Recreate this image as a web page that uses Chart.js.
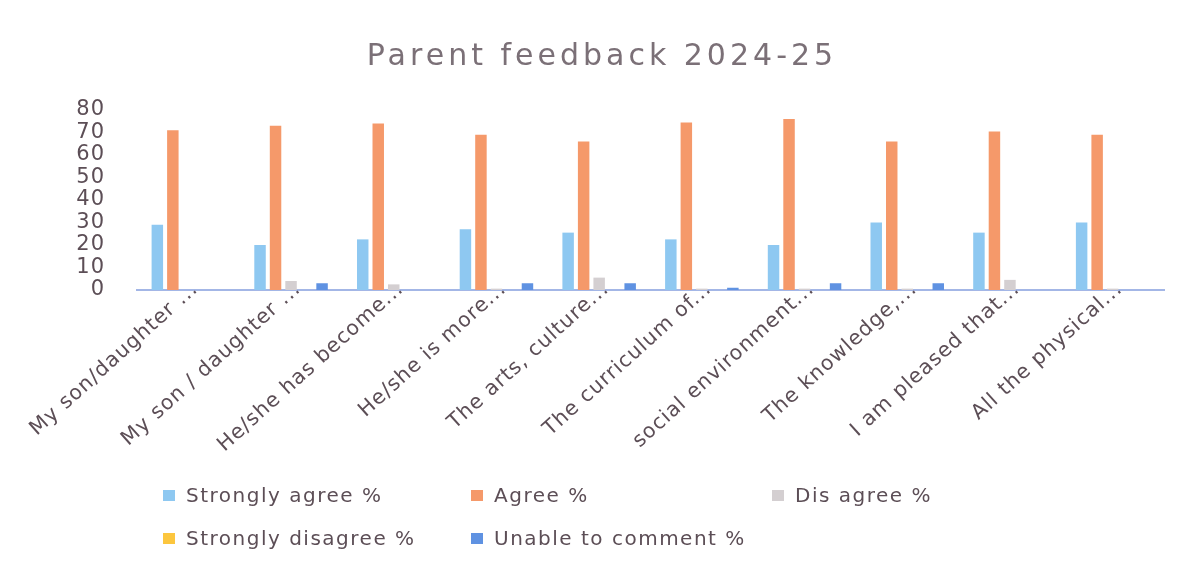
<!DOCTYPE html>
<html>
<head>
<meta charset="utf-8">
<script src="https://cdn.jsdelivr.net/npm/chart.js@4.4.1/dist/chart.umd.min.js"></script>
<style>
  html,body{margin:0;padding:0;background:#fff;}
  #wrap{position:relative;width:1200px;height:572px;}
  canvas{position:absolute;left:0;top:0;}
  .lg{position:absolute;font-family:"DejaVu Sans", sans-serif;font-size:20px;letter-spacing:1.5px;color:#5c4e56;white-space:nowrap;line-height:24px;}
  .lg span.b{position:absolute;width:12px;height:11px;top:7px;left:0;}
</style>
</head>
<body>
<div id="wrap"><canvas id="c" width="1200" height="572"></canvas><div id="legend"></div></div>
<script>
const categories = [
  "My son/daughter ...",
  "My son / daughter ...",
  "He/she has become...",
  "He/she is more...",
  "The arts, culture...",
  "The curriculum of...",
  "social environment...",
  "The knowledge,...",
  "I am pleased that...",
  "All the physical..."
];
const seriesNames = ["Strongly agree %", "Agree %", "Dis agree %", "Strongly disagree %", "Unable to comment %"];
const stronglyAgree   = [29, 20, 22.5, 27, 25.5, 22.5, 20, 30, 25.5, 30];
const agree           = [71, 73, 74, 69, 66, 74.5, 76, 66, 70.5, 69];
const disagree        = [0, 4, 2.5, 0.6, 5.5, 0.6, 0.6, 0.6, 4.5, 0.6];
const stronglyDisagree= [0, 0, 0, 0, 0, 0, 0, 0, 0, 0];
const unableToComment = [0, 3, 0, 3, 3, 1, 3, 3, 0, 0];
const yTicks = [0, 10, 20, 30, 40, 50, 60, 70, 80];

const colors = ["#8ec8f1", "#f5996a", "#d4cfd1", "#fcc63e", "#5f92e2"];
const values = [stronglyAgree, agree, disagree, stronglyDisagree, unableToComment];

const datasets = seriesNames.map((n, i) => ({
  label: n,
  data: values[i],
  backgroundColor: colors[i],
  borderWidth: 0,
  categoryPercentage: 0.755,
  barPercentage: 0.74
}));

const textColor = "#5c4e56";

const spacingPlugin = {
  id: "spacing",
  beforeDraw(chart) { chart.ctx.letterSpacing = "1px"; }
};

const chart = new Chart(document.getElementById("c"), {
  type: "bar",
  data: { labels: categories, datasets },
  plugins: [spacingPlugin],
  options: {
    responsive: false,
    animation: false,
    devicePixelRatio: 1,
    layout: { padding: { left: 40, right: 36, top: 0, bottom: 0 } },
    plugins: {
      legend: { display: false },
      tooltip: { enabled: false },
      title: {
        display: true,
        text: "Parent feedback 2024-25",
        color: "#7b7077",
        font: { family: "DejaVu Sans", size: 30, weight: "normal" },
        padding: { top: 39, bottom: 35 }
      }
    },
    scales: {
      x: {
        grid: { display: false },
        border: { display: true, color: "#a3b6e6", width: 2 },
        ticks: {
          color: textColor,
          font: { family: "DejaVu Sans", size: 20.5 },
          minRotation: 42, maxRotation: 42,
          autoSkip: false,
          labelOffset: 7,
          padding: -21
        },
        afterFit: (s) => { s.height = 282; }
      },
      y: {
        min: 0, max: 80,
        grid: { display: false },
        border: { display: false },
        afterBuildTicks: (s) => { s.ticks = yTicks.map(v => ({ value: v })); },
        ticks: {
          color: textColor,
          font: { family: "DejaVu Sans", size: 21 },
          autoSkip: false,
          padding: 24
        },
        afterFit: (s) => { s.width = 97; }
      }
    }
  }
});

// wider letter spacing for the title only
const tb = chart.titleBlock;
const origDraw = tb.draw.bind(tb);
tb.draw = function () {
  const ctx = chart.ctx;
  ctx.save();
  ctx.letterSpacing = "4px";
  origDraw();
  ctx.restore();
};
chart.draw();

// HTML legend built from series names and colours
const legendPos = [
  { x: 163, y: 483 }, { x: 471, y: 483 }, { x: 772, y: 483 },
  { x: 163, y: 526 }, { x: 471, y: 526 }
];
const lg = document.getElementById("legend");
seriesNames.forEach((n, i) => {
  const d = document.createElement("div");
  d.className = "lg";
  d.style.left = legendPos[i].x + "px";
  d.style.top = legendPos[i].y + "px";
  d.style.paddingLeft = "23px";
  const b = document.createElement("span");
  b.className = "b";
  b.style.background = colors[i];
  d.appendChild(b);
  d.appendChild(document.createTextNode(n));
  lg.appendChild(d);
});
</script>
</body>
</html>
